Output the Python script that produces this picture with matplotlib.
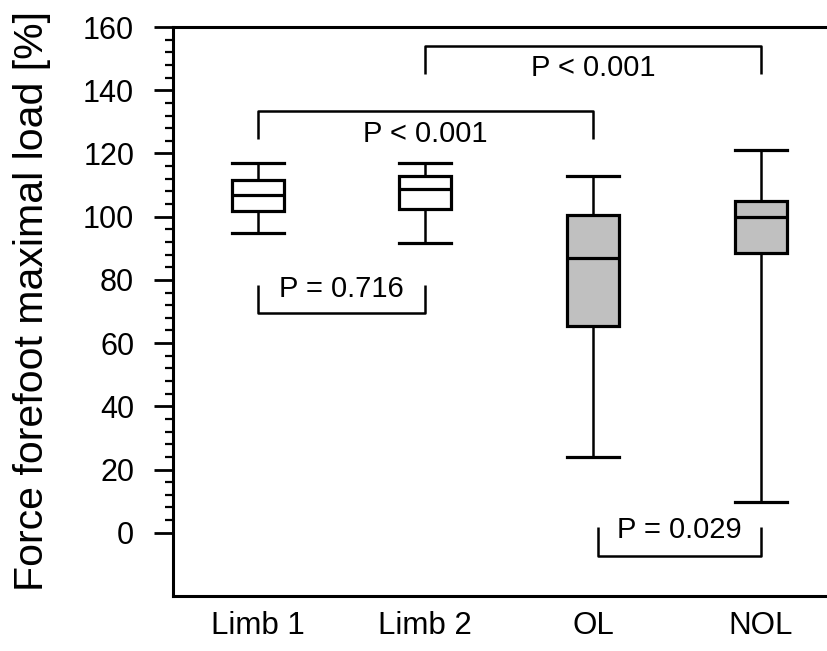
import matplotlib
matplotlib.use("Agg")
import matplotlib.pyplot as plt
from matplotlib.ticker import FixedLocator

plt.rcParams["font.family"] = ["Liberation Sans", "DejaVu Sans"]

# DATA
groups     = ["Limb 1", "Limb 2", "OL", "NOL"]
whisk_low  = [94.7, 91.7, 23.9, 9.7]
q1         = [101.7, 102.5, 65.5, 88.5]
medians    = [107.0, 108.9, 87.0, 100.0]
q3         = [111.7, 113.0, 100.4, 105.0]
whisk_high = [117.0, 117.0, 112.9, 121.0]
fills      = ["white", "white", "#c0c0c0", "#c0c0c0"]

# comparisons: (group a, group b, p-text)
comparisons = [
    (1, 3, "P < 0.001"),
    (2, 4, "P < 0.001"),
    (1, 2, "P = 0.716"),
    (3, 4, "P = 0.029"),
]

positions = [1, 2, 3, 4]
stats = []
for i, g in enumerate(groups):
    stats.append(dict(label=g, whislo=whisk_low[i], q1=q1[i], med=medians[i],
                      q3=q3[i], whishi=whisk_high[i], fliers=[]))

fig = plt.figure(figsize=(8.28, 6.51), dpi=100)
ax = fig.add_axes([0.209, 0.0845, 0.80, 0.874])

LW = 2.3
bp = ax.bxp(stats, positions=positions, widths=0.31, capwidths=0.31,
            patch_artist=True, showfliers=False,
            boxprops=dict(linewidth=LW, edgecolor="black"),
            medianprops=dict(linewidth=LW, color="black"),
            whiskerprops=dict(linewidth=1.8, color="black"),
            capprops=dict(linewidth=LW, color="black"))
for patch, c in zip(bp["boxes"], fills):
    patch.set_facecolor(c)

# significance brackets
bracket_style = dict(color="black", linewidth=1.8, solid_capstyle="butt")
fs = 21
# upper brackets (open downward)
a, b, txt = comparisons[0]
ax.plot([a, a, b, b], [124.7, 133.4, 133.4, 124.7], **bracket_style)
ax.text((a + b) / 2, 126, txt, ha="center", va="center", fontsize=fs)
a, b, txt = comparisons[1]
ax.plot([a, a, b, b], [145.2, 154.1, 154.1, 145.2], **bracket_style)
ax.text((a + b) / 2, 147, txt, ha="center", va="center", fontsize=fs)
# lower brackets (open upward)
a, b, txt = comparisons[2]
ax.plot([a, a, b, b], [78.3, 69.6, 69.6, 78.3], **bracket_style)
ax.text((a + b) / 2, 77.0, txt, ha="center", va="center", fontsize=fs)
a, b, txt = comparisons[3]
ax.plot([a + 0.03, a + 0.03, b, b], [1.7, -7.2, -7.2, 1.7], **bracket_style)
ax.text((a + b) / 2 + 0.015, 0.9, txt, ha="center", va="center", fontsize=fs)

ax.set_xlim(0.495, 4.446)
ax.set_ylim(-20, 160)
ax.yaxis.set_major_locator(FixedLocator(list(range(0, 161, 20))))
ax.yaxis.set_minor_locator(FixedLocator([v for v in range(0, 161, 4) if v % 20]))
ax.tick_params(axis="y", which="major", direction="out", length=14, width=2.0,
               labelsize=22, pad=14)
ax.tick_params(axis="y", which="minor", direction="out", length=6, width=1.6)
ax.tick_params(axis="x", length=0, labelsize=22.5, pad=11)
ax.set_xticks(positions)
ax.set_xticklabels(groups)
ax.set_ylabel("Force forefoot maximal load [%]", fontsize=29.5, va="center")
ax.yaxis.set_label_coords(-0.213, 0.518)

for side in ["left", "bottom", "top"]:
    ax.spines[side].set_linewidth(2.2)
ax.spines["right"].set_visible(False)

fig.savefig("out.png", dpi=100)
